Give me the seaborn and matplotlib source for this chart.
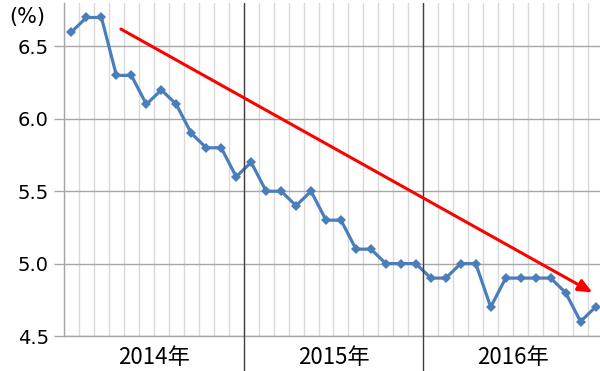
import matplotlib
matplotlib.use("Agg")
import matplotlib.pyplot as plt
import matplotlib.transforms as mtransforms
import seaborn as sns
import pandas as pd
import numpy as np

# Data: monthly values Jan 2014 - Dec 2016
years = ["2014年", "2015年", "2016年"]
values = [6.6, 6.7, 6.7, 6.3, 6.3, 6.1, 6.2, 6.1, 5.9, 5.8, 5.8, 5.6,
          5.7, 5.5, 5.5, 5.4, 5.5, 5.3, 5.3, 5.1, 5.1, 5.0, 5.0, 5.0,
          4.9, 4.9, 5.0, 5.0, 4.7, 4.9, 4.9, 4.9, 4.9, 4.8, 4.6, 4.7]
yticks = [4.5, 5.0, 5.5, 6.0, 6.5]
unit_label = "(%)"
# trend arrow (data coords: month index, value)
arrow_start = (3.3, 6.62)
arrow_end = (34.8, 4.80)

df = pd.DataFrame({"month": np.arange(len(values)), "value": values})

sns.set_theme(style="white")
plt.rcParams["font.family"] = ["Noto Sans CJK JP", "DejaVu Sans"]

fig = plt.figure(figsize=(6.0, 3.71), dpi=100)
ax = fig.add_axes([64 / 600, 35 / 371, 539 / 600, 333 / 371])

n = len(values)
ax.set_xlim(-0.5, n - 0.5)
ax.set_ylim(4.5, 6.8)

# month gridlines at cell boundaries
for b in np.arange(-0.5, n, 1.0):
    ax.axvline(b, color="#d9d9d9", lw=1.0, zorder=0)
for yt in yticks:
    ax.axhline(yt, color="#a6a6a6", lw=1.0, zorder=0.5)

sns.lineplot(data=df, x="month", y="value", ax=ax, color="#4a7ebb",
             lw=2.3, marker="D", markersize=5, markeredgewidth=0, zorder=3)

# year separators extending below the axis
trans = mtransforms.blended_transform_factory(ax.transData, ax.transAxes)
for k in range(1, len(years)):
    xb = 12 * k - 0.5
    ax.plot([xb, xb], [1.0, -0.11], transform=trans, color="#404040",
            lw=1.0, clip_on=False, zorder=4)

# year labels
for k, yl in enumerate(years):
    ax.text(12 * k + 5.5, -0.065, yl, transform=trans, ha="center", va="center",
            fontsize=16, color="black")

ax.set_xticks([])
ax.set_yticks(yticks)
ax.set_yticklabels([f"{v:.1f}" for v in yticks], fontsize=14, color="black",
                   family=["DejaVu Sans"])
ax.tick_params(axis="y", length=7, width=1, color="#a6a6a6", pad=4, left=True)
ax.set_xlabel("")
ax.set_ylabel("")

for s in ["top", "right"]:
    ax.spines[s].set_visible(False)
ax.spines["left"].set_color("#a6a6a6")
ax.spines["bottom"].set_color("#a6a6a6")
ax.spines["left"].set_linewidth(1.0)
ax.spines["bottom"].set_linewidth(1.0)

# trend arrow
ax.annotate("", xy=arrow_end, xytext=arrow_start,
            arrowprops=dict(arrowstyle="-|>,head_length=0.7,head_width=0.3",
                            color="#ff0000", lw=2.2, shrinkA=0, shrinkB=0),
            zorder=5)

fig.text(27 / 600, 1 - 17 / 371, unit_label, ha="center", va="center",
         fontsize=15, color="black", family=["DejaVu Sans"])

fig.savefig("out.png", dpi=100)
